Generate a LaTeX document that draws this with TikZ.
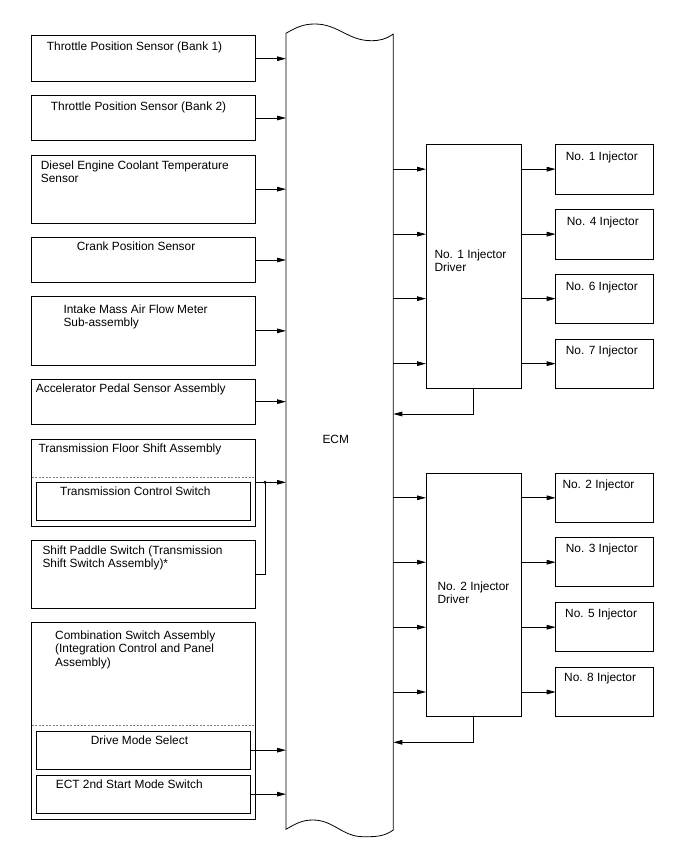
\documentclass[tikz,border=0pt]{standalone}
\usepackage{fontspec}
\setmainfont{Liberation Sans}
\usetikzlibrary{arrows.meta}
\tikzset{
  bx/.style={draw, line width=0.8pt, inner sep=0pt, outer sep=0pt, anchor=north west},
  txt/.style={anchor=base west, inner sep=0pt, align=left, font=\fontsize{11.9}{13.6}\selectfont},
  arr/.style={line width=0.8pt, -{Triangle[length=9pt,width=4.6pt]}},
  ln/.style={line width=0.8pt},
  dashline/.style={line width=0.5pt, gray, dash pattern=on 2pt off 1.5pt}
}
\newcommand\mkbox[5]{\node[bx, minimum width={#4-#2}, minimum height={#5-#3}] (#1) at (#2,#3) {};}
\begin{document}
\begin{tikzpicture}[x=1pt,y=-1pt]
\useasboundingbox (0,0) rectangle (688,852);
% ECM shape
\node[inner sep=0pt, outer sep=0pt, minimum width=107.3, minimum height=797, anchor=north west] (ecm) at (286,33.3) {};
\draw[ln] (286,33.3) to[out=30,in=180] (315,24) to[out=0,in=180] (371,40.7) to[out=0,in=215] (393.3,34)
  -- (393.3,830) to[out=215,in=0] (363,836.7) to[out=180,in=0] (313,820) to[out=180,in=30] (286,829.3) -- cycle;
\node[txt] (ecml) at (322.3,443.3) {ECM};
% left boxes
\mkbox{b1}{31}{35.7}{255.3}{81.7}
\mkbox{b2}{31}{95.3}{255.3}{140.7}
\mkbox{b3}{31}{155}{255.3}{223.3}
\mkbox{b4}{31}{237.3}{255.3}{282.7}
\mkbox{b5}{31}{296.7}{255.3}{365}
\mkbox{b6}{31}{379.3}{255.3}{424}
\mkbox{b7}{31.5}{439}{255.3}{526.7}
\mkbox{b7i}{36.7}{482.3}{250}{520.7}
\mkbox{b8}{31.5}{540}{255.3}{608}
\mkbox{b9}{31.5}{622.7}{255.3}{819}
\mkbox{b9a}{36.7}{731}{250}{769.3}
\mkbox{b9b}{36.7}{775}{250}{813.3}
\coordinate (d7) at (31.5,477.3);
\coordinate (d9) at (31.5,725.7);
\draw[dashline] (d7) -- (d7 -| b7.east);
\draw[dashline] (d9) -- (d9 -| b9.east);
\node[txt] (t1) at (46.7,50.7) {Throttle Position Sensor (Bank 1)};
\node[txt] (t2) at (50.7,110.7) {Throttle Position Sensor (Bank 2)};
\node[txt] (t3) at (40.7,182.9) {Diesel Engine Coolant Temperature\\Sensor};
\node[txt] (t4) at (76.7,250.7) {Crank Position Sensor};
\node[txt] (t5) at (63.3,326.9) {Intake Mass Air Flow Meter\\Sub-assembly};
\node[txt] (t6) at (35.7,392.7) {Accelerator Pedal Sensor Assembly};
\node[txt] (t7) at (38.3,452.7) {Transmission Floor Shift Assembly};
\node[txt] (t7i) at (60,495.7) {Transmission Control Switch};
\node[txt] (t8) at (42.3,567.8) {Shift Paddle Switch (Transmission\\Shift Switch Assembly)*};
\node[txt] (t9) at (55,666.5) {Combination Switch Assembly\\(Integration Control and Panel\\Assembly)};
\node[txt] (t9a) at (90.7,744) {Drive Mode Select};
\node[txt] (t9b) at (55.7,788.3) {ECT 2nd Start Mode Switch};
% left arrows
\foreach \b in {b1,b2,b3,b4,b5,b6}{\draw[arr] (\b.east) -- (\b.east -| ecm.west);}
\draw[arr] (b9a.east) -- (b9a.east -| ecm.west);
\draw[arr] (b9b.east) -- (b9b.east -| ecm.west);
\coordinate (j) at (265,482.3);
\draw[arr] (b7.east |- j) -- (j -| ecm.west);
\draw[ln] (b8.east) -| (j);
\fill (j) circle (1.6);
% drivers
\mkbox{drv1}{426}{144.3}{521.7}{388.3}
\mkbox{drv2}{426}{473.3}{521.7}{716.7}
\node[txt] (td1) at (434.3,271.9) {No. 1 Injector\\Driver};
\node[txt] (td2) at (437.3,603.6) {No. 2 Injector\\Driver};
% injectors
\mkbox{i1}{555.7}{144.3}{653.3}{194}
\mkbox{i4}{555.7}{209.3}{653.3}{259}
\mkbox{i6}{555.7}{274}{653.3}{323.3}
\mkbox{i7}{555.7}{339}{653.3}{388.3}
\mkbox{i2}{555.7}{473.3}{653.3}{522.3}
\mkbox{i3}{555.7}{537.7}{653.3}{586.7}
\mkbox{i5}{555.7}{602.7}{653.3}{651.7}
\mkbox{i8}{555.7}{667.3}{653.3}{716.7}
\node[txt] (ti1) at (565.7,160.7) {No. 1 Injector};
\node[txt] (ti4) at (566.7,225.7) {No. 4 Injector};
\node[txt] (ti6) at (565.7,290.7) {No. 6 Injector};
\node[txt] (ti7) at (565.7,354.7) {No. 7 Injector};
\node[txt] (ti2) at (562.3,488.3) {No. 2 Injector};
\node[txt] (ti3) at (565.7,552.7) {No. 3 Injector};
\node[txt] (ti5) at (565,617.7) {No. 5 Injector};
\node[txt] (ti8) at (564,681.7) {No. 8 Injector};
\foreach \i in {i1,i4,i6,i7}{
  \draw[arr] (\i -| ecm.east) -- (\i -| drv1.west);
  \draw[arr] (\i -| drv1.east) -- (\i.west);
}
\foreach \i in {i2,i3,i5,i8}{
  \draw[arr] (\i -| ecm.east) -- (\i -| drv2.west);
  \draw[arr] (\i -| drv2.east) -- (\i.west);
}
\coordinate (r1) at (473.85,414);
\coordinate (r2) at (473.85,742.3);
\draw[arr] (drv1.south) |- (r1 -| ecm.east);
\draw[arr] (drv2.south) |- (r2 -| ecm.east);
\end{tikzpicture}
\end{document}
